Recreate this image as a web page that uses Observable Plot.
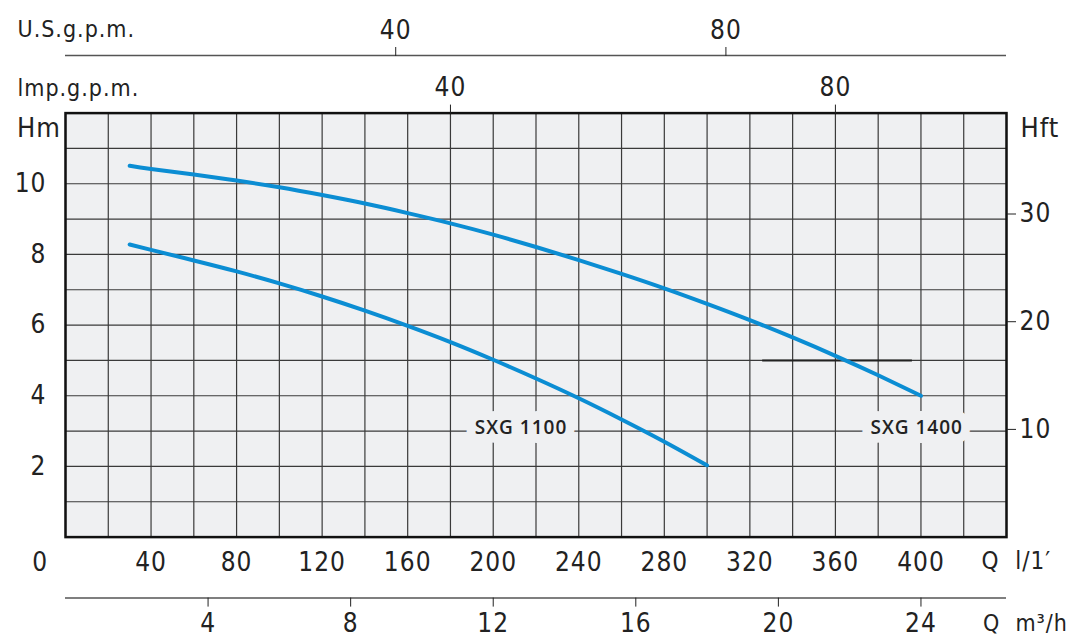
<!DOCTYPE html>
<html><head><meta charset="utf-8">
<script src="https://cdn.jsdelivr.net/npm/d3@7"></script>
<script src="https://cdn.jsdelivr.net/npm/@observablehq/plot@0.6"></script>
<style>
html,body{margin:0;padding:0;background:#fff;}
svg text{letter-spacing:1px;}
g[aria-label="curve labels"] text{letter-spacing:0.4px;}
g[aria-label="unit titles"] text{letter-spacing:0px;white-space:pre;}
</style></head><body><div id="chart"></div>
<script>
// Pump curves: flow Q (l/min) vs head H (m)
const flowSXG1400 = [30, 40, 60, 80, 100, 120, 140, 160, 180, 200, 220, 240, 260, 280, 300, 320, 340, 360, 380, 400];
const headSXG1400 = [10.51, 10.42, 10.26, 10.09, 9.90, 9.68, 9.44, 9.17, 8.88, 8.56, 8.21, 7.84, 7.45, 7.04, 6.60, 6.14, 5.65, 5.13, 4.58, 4.00];
const flowSXG1100 = [30, 40, 60, 80, 100, 120, 140, 160, 180, 200, 220, 240, 260, 280, 300];
const headSXG1100 = [8.28, 8.13, 7.83, 7.52, 7.18, 6.81, 6.41, 5.98, 5.52, 5.02, 4.49, 3.93, 3.33, 2.70, 2.03];

const curveNames = ["SXG 1100", "SXG 1400"];
const labelFlow = [213, 398];
const labelHead = [3.1, 3.1];

const refSegmentFlow = [326, 396];
const refSegmentHead = [5];

// Tick labels
const qTicks = [40, 80, 120, 160, 200, 240, 280, 320, 360, 400];
const hmTicks = [2, 4, 6, 8, 10];
const hftTicks = [10, 20, 30];
const usGpmTicks = [40, 80];
const impGpmTicks = [40, 80];
const m3hTicks = [4, 8, 12, 16, 20, 24];

// Unit conversions (to l/min and m), as drawn on the chart
const US = 3.86, IMP = 4.5, M3H = 1000 / 60, FT = 0.3048;

const data1400 = flowSXG1400.map((q, i) => ({q, h: headSXG1400[i]}));
const data1100 = flowSXG1100.map((q, i) => ({q, h: headSXG1100[i]}));
const labels = curveNames.map((name, i) => ({name, q: labelFlow[i], h: labelHead[i]}));

const BG = "#eff0f2", BLUE = "#0b8dd3", GRID = "#3a3a3a", INK = "#222";
const title = {lineAnchor: "middle", ariaLabel: "unit titles"};

const chart = Plot.plot({
  width: 1084, height: 642,
  marginLeft: 65, marginRight: 78, marginTop: 112.6, marginBottom: 105.4,
  x: {domain: [0, 440]},
  y: {domain: [0, 12]},
  style: {fontFamily: "'Liberation Sans Narrow','DejaVu Sans Condensed',sans-serif", fontSize: "26px", color: INK, background: "#fff", overflow: "visible"},
  marks: [
    Plot.frame({fill: BG, stroke: null}),
    Plot.gridX(d3.range(0, 441, 20), {stroke: GRID, strokeOpacity: 1, strokeWidth: 1.2}),
    Plot.gridY(d3.range(0, 13, 1), {stroke: GRID, strokeOpacity: 1, strokeWidth: 1.2}),
    Plot.ruleY(refSegmentHead, {x1: refSegmentFlow[0], x2: refSegmentFlow[1], stroke: INK, strokeWidth: 2}),
    Plot.line(data1100, {x: "q", y: "h", stroke: BLUE, strokeWidth: 4, curve: "natural"}),
    Plot.line(data1400, {x: "q", y: "h", stroke: BLUE, strokeWidth: 4, curve: "natural"}),
    Plot.text(labels, {x: "q", y: "h", text: "name", fontFamily: "'Open Sans',sans-serif", fontSize: 19, fontWeight: 600, fill: INK, stroke: BG, strokeWidth: 18, strokeLinejoin: "round", ariaLabel: "curve labels"}),
    Plot.frame({stroke: "#111", strokeWidth: 2.5}),
    // left (m) and right (ft) axes
    Plot.axisY(hmTicks, {anchor: "left", tickSize: 0, tickPadding: 19, label: null}),
    Plot.axisY(hftTicks.map(d => d * FT), {anchor: "right", tickSize: 9, tickPadding: 4, tickFormat: d => Math.round(d / FT), label: null}),
    // bottom l/min axis
    Plot.axisX(qTicks, {anchor: "bottom", tickSize: 0, tickPadding: 15, label: null}),
    Plot.text(["0"], {frameAnchor: "bottom-left", textAnchor: "middle", dx: -25.4, dy: 15.6, lineAnchor: "top"}),
    // bottom m3/h axis
    Plot.ruleY([0], {dy: 61, stroke: "#555", strokeWidth: 1.5}),
    Plot.axisX(m3hTicks.map(d => d * M3H), {anchor: "bottom", dy: 61, tickSize: 9, tickPadding: 6, tickFormat: d => Math.round(d / M3H), label: null}),
    // top US gpm axis
    Plot.ruleY([12], {dy: -57.6, stroke: "#555", strokeWidth: 1.5}),
    Plot.axisX(usGpmTicks.map(d => d * US), {anchor: "top", dy: -57.6, tickSize: 9, tickPadding: 8, tickFormat: d => Math.round(d / US), label: null}),
    // top Imp gpm axis
    Plot.axisX(impGpmTicks.map(d => d * IMP), {anchor: "top", tickSize: 9, tickPadding: 8, tickFormat: d => Math.round(d / IMP), label: null}),
    // axis titles
    Plot.text(["Hm"], {...title, frameAnchor: "top-left", textAnchor: "start", dx: -48.5, dy: 15, fontSize: 27}),
    Plot.text(["Hft"], {...title, frameAnchor: "top-right", textAnchor: "start", dx: 14, dy: 15, fontSize: 27}),
    Plot.text(["U.S.g.p.m."], {...title, frameAnchor: "top-left", textAnchor: "start", dx: -48, dy: -83.5, fontSize: 23}),
    Plot.text(["lmp.g.p.m."], {...title, frameAnchor: "top-left", textAnchor: "start", dx: -48, dy: -24.5, fontSize: 23}),
    Plot.text(["Q  l/1′"], {...title, frameAnchor: "bottom-right", textAnchor: "start", dx: -25, dy: 24, fontSize: 24}),
    Plot.text(["Q  m³/h"], {...title, frameAnchor: "bottom-right", textAnchor: "start", dx: -23.5, dy: 87, fontSize: 23})
  ]
});
document.getElementById("chart").appendChild(chart);
</script></body></html>
